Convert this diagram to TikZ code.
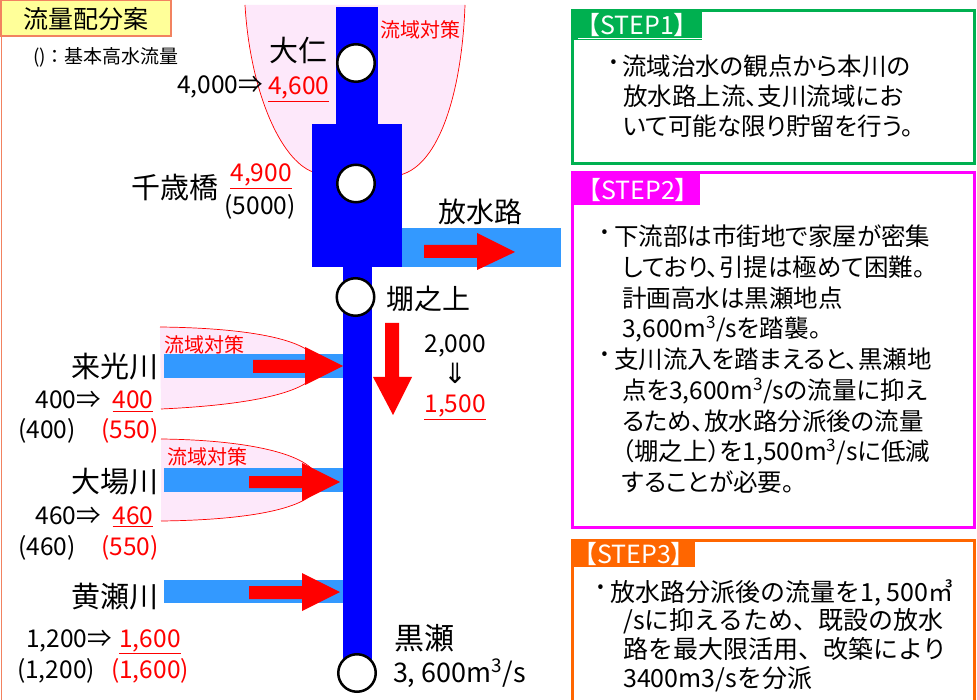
\documentclass[tikz,border=0pt]{standalone}
\usepackage{fontspec}
\setmainfont{Noto Sans CJK JP}
\newfontfamily\jpp[RawFeature=+palt]{Noto Sans CJK JP}
\newfontfamily\dvs{DejaVu Sans}
\newcommand\fsz[2]{\fontsize{#1pt}{#2pt}\selectfont}
\definecolor{rblue}{RGB}{0,0,255}
\definecolor{lblue}{RGB}{51,153,255}
\definecolor{pinkbg}{RGB}{253,232,250}
\definecolor{coral}{RGB}{242,130,96}
\definecolor{ttlfill}{RGB}{255,255,153}
\definecolor{sgreen}{RGB}{0,176,80}
\definecolor{smag}{RGB}{255,0,255}
\definecolor{sorange}{RGB}{255,102,0}
\begin{document}
\begin{tikzpicture}[x=1pt,y=-1pt,
  lbl/.style={inner sep=0pt, outer sep=0pt, text=black},
  redl/.style={inner sep=0pt, outer sep=0pt, text=red},
  big/.style={lbl, font=\jpp\fsz{29}{34}},
  num/.style={lbl, font=\jpp\fsz{24.5}{30}},
  rnum/.style={redl, font=\jpp\fsz{24.5}{30}},
  basin/.style={redl, font=\jpp\fsz{20}{24}},
  stn/.style={circle, draw=black, fill=white, line width=2.5pt, minimum size=37.5pt, inner sep=0pt},
  rim/.style={red, line width=0.7pt},
  hdr/.style={inner sep=0pt, text=white, font=\jpp\fsz{25}{28}},
  bodytxt/.style={inner sep=0pt, anchor=base west, font=\jpp\fsz{24.5}{30}},
  bodymono/.style={inner sep=0pt, anchor=base west, font=\fsz{25}{30}},
  dot/.style={inner sep=0pt, font=\fsz{34}{34}},
]
\useasboundingbox (0,0) rectangle (977,700);
\fill[white] (0,0) rectangle (977,700);

% title and left frame line
\draw[coral, line width=1pt] (1.5,36) -- (1.5,700);
\draw[coral, fill=ttlfill, line width=1.5pt] (0.75,0.75) rectangle (171,36);
\node[lbl, font=\fsz{25}{30}] (ttl) at (86,19) {流量配分案};
\node[lbl, font=\fsz{19}{22}] (lgd) at (106,57) {()：基本高水流量};

% upper basin
\fill[pinkbg] (245,5) .. controls (250,90) and (280,160) .. (313,172) -- (400,175) .. controls (440,165) and (462,90) .. (465,5) -- cycle;
\draw[rim] (245,5) .. controls (250,90) and (280,160) .. (313,172);
\draw[rim] (400,175) .. controls (440,165) and (462,90) .. (465,5);

% tributary basins
\fill[pinkbg] (160,327) .. controls (250,328) and (318,340) .. (318,366) .. controls (318,392) and (250,405) .. (161,409) -- cycle;
\draw[rim] (160,327) .. controls (250,328) and (318,340) .. (318,366) .. controls (318,392) and (250,405) .. (161,409);
\fill[pinkbg] (161,439) .. controls (250,440) and (318,455) .. (318,482) .. controls (318,508) and (250,520) .. (161,521) -- cycle;
\draw[rim] (161,439) .. controls (250,440) and (318,455) .. (318,482) .. controls (318,508) and (250,520) .. (161,521);

% light blue channels
\fill[lblue] (164,354) rectangle (343,378);
\fill[lblue] (164,468) rectangle (343,492);
\fill[lblue] (164,580) rectangle (343,603);
\fill[lblue] (402,228) rectangle (561,267);

% main river
\fill[rblue] (336,7) rectangle (378,124);
\fill[rblue] (312,124) rectangle (402,267);
\fill[rblue] (343,267) rectangle (372,662);

% red arrows
\fill[red] (424,245) -- (477,245) -- (477,233) -- (515,252) -- (477,270) -- (477,258) -- (424,258) -- cycle;
\fill[red] (253,360) -- (305,360) -- (305,347) -- (343,366) -- (305,385) -- (305,373) -- (253,373) -- cycle;
\fill[red] (249,476) -- (302,476) -- (302,463) -- (340,482) -- (302,501) -- (302,488) -- (249,488) -- cycle;
\fill[red] (249,586) -- (302,586) -- (302,573) -- (340,592) -- (302,611) -- (302,599) -- (249,599) -- cycle;
\fill[red] (385,323) -- (399,323) -- (399,377) -- (412,377) -- (393,415) -- (373,377) -- (385,377) -- cycle;

% stations
\node[stn] (dajin) at (356,63) {};
\node[stn] (chitose) at (356,183.5) {};
\node[stn] (gonoue) at (355.5,297) {};
\node[stn] (kurose) at (357,673) {};

% upper labels
\node[big] (tdajin) at (298,50) {大仁};
\node[basin] (b0) at (420,30) {流域対策};
\node[num, anchor=base east] (q1a) at (263,94) {4,000⇒};
\node[rnum, anchor=base west] (q1b) at (268,95) {\underline{4,600}};
\node[big] (tchitose) at (175,188) {千歳橋};
\node[rnum, anchor=base] (q2a) at (261,182) {\underline{4,900}};
\node[num, anchor=base] (q2b) at (260,215) {(5000)};
\node[lbl, font=\jpp\fsz{28}{32}] (tfsr) at (480,212) {放水路};
\node[lbl, font=\jpp\fsz{28}{32}] (tgon) at (428,299) {堋之上};
\node[num, anchor=base] (q3a) at (455,353) {2,000};
\node[lbl, font=\dvs\fsz{28}{30}] (q3b) at (455,373) {⇓};
\node[rnum, anchor=base] (q3c) at (455,413) {\underline{1,500}};

% tributary labels
\node[big] (trai) at (115,367) {来光川};
\node[basin] (b1) at (204,345) {流域対策};
\node[num, anchor=base east] (r1a) at (101,409) {400⇒};
\node[rnum, anchor=base] (r1b) at (133,409) {\underline{400}};
\node[num, anchor=base] (r1c) at (47,438) {(400)};
\node[rnum, anchor=base] (r1d) at (130,438) {(550)};

\node[big] (toba) at (115,482) {大場川};
\node[basin] (b2) at (207,457) {流域対策};
\node[num, anchor=base east] (r2a) at (101,524) {460⇒};
\node[rnum, anchor=base] (r2b) at (133,524) {\underline{460}};
\node[num, anchor=base] (r2c) at (47,555) {(460)};
\node[rnum, anchor=base] (r2d) at (130,555) {(550)};

\node[big] (tkise) at (115,597) {黄瀬川};
\node[num, anchor=base east] (r3a) at (112,647) {1,200⇒};
\node[rnum, anchor=base] (r3b) at (150,647) {\underline{1,600}};
\node[num, anchor=base] (r3c) at (56,678) {(1,200)};
\node[rnum, anchor=base] (r3d) at (150,678) {(1,600)};

\node[lbl, font=\jpp\fsz{30}{34}] (tkurose) at (424,638) {黒瀬};
\node[lbl, anchor=base west, font=\fsz{27}{30}] (qk) at (393,682) {3, 600m\textsuperscript{3}/s};

% STEP1
\fill[sgreen] (572,10.5) rectangle (702,40);
\draw[white, line width=0.8pt] (578,38.5) -- (702,38.5);
\draw[sgreen, line width=3pt] (572,10.5) rectangle (974.5,164);
\node[hdr] (h1) at (637,25) {【STEP1】};
\node[dot] (d1) at (614,67) {·};
\node[bodytxt] (s1a) at (622,76) {流域治水の観点から本川の};
\node[bodytxt] (s1b) at (623,106) {放水路上流、支川流域にお};
\node[bodytxt] (s1c) at (623,136) {いて可能な限り貯留を行う。};

% STEP2
\fill[smag] (572,172.5) rectangle (700,205);
\draw[smag, line width=3pt] (572.5,172.5) rectangle (974.5,527.5);
\node[hdr] (h2) at (638,190) {【STEP2】};
\node[dot] (d2) at (605,237) {·};
\node[bodytxt] (s2a) at (614,246) {下流部は市街地で家屋が密集};
\node[bodytxt] (s2b) at (622,276.7) {しており、引提は極めて困難。};
\node[bodytxt] (s2c) at (622,307.4) {計画高水は黒瀬地点};
\node[bodytxt] (s2d) at (622,338) {3,600m\textsuperscript{3}/sを踏襲。};
\node[dot] (d3) at (605,359) {·};
\node[bodytxt] (s2e) at (614,368.8) {支川流入を踏まえると、黒瀬地};
\node[bodytxt] (s2f) at (622,399.5) {点を3,600m\textsuperscript{3}/sの流量に抑え};
\node[bodytxt] (s2g) at (622,430.2) {るため、放水路分派後の流量};
\node[bodytxt] (s2h) at (622,460.9) {（堋之上）を1,500m\textsuperscript{3}/sに低減};
\node[bodytxt] (s2i) at (622,491.6) {することが必要。};

% STEP3
\fill[sorange] (572,540.5) rectangle (695,567);
\draw[sorange, line width=3.5pt] (572.5,705) -- (572.5,540.5) -- (974.5,540.5) -- (974.5,705);
\node[hdr] (h3) at (634,554) {【STEP3】};
\node[dot] (d4) at (601,592) {·};
\node[bodymono] (s3a) at (610,601) {放水路分派後の流量を1, 500㎥};
\node[bodymono] (s3b) at (623,629.7) {/sに抑えるため、既設の放水};
\node[bodymono] (s3c) at (623,658.4) {路を最大限活用、改築により};
\node[bodymono] (s3d) at (623,687) {3400m3/sを分派};
\end{tikzpicture}
\end{document}
